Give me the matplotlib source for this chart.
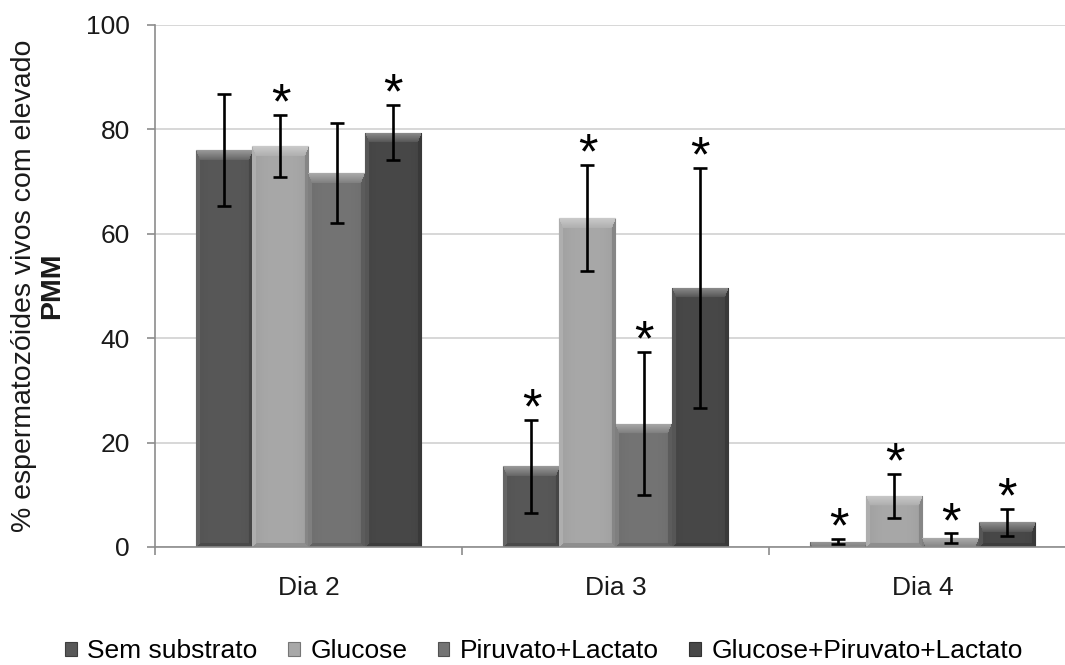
"""
Bar chart: % espermatozoides vivos com elevado PMM por dia e substrato.
Recreated in matplotlib with an Excel-like bevel on each bar.
"""

import numpy as np
import matplotlib
matplotlib.use("Agg")
import matplotlib.pyplot as plt
from matplotlib.patches import Patch
from matplotlib.colors import to_rgb


OUTPUT_FIGURE = "out.png"

DAYS = ["Dia 2", "Dia 3", "Dia 4"]
SERIES = ["Sem substrato", "Glucose", "Piruvato+Lactato", "Glucose+Piruvato+Lactato"]

# values per series, one entry per day
SEM_SUBSTRATO = [76.0, 15.5, 1.0]
GLUCOSE = [76.8, 63.0, 9.8]
PIRUVATO_LACTATO = [71.6, 23.6, 1.7]
GLUCOSE_PIRUVATO_LACTATO = [79.4, 49.7, 4.7]

SEM_SUBSTRATO_ERR = [10.7, 8.9, 0.5]
GLUCOSE_ERR = [6.0, 10.2, 4.2]
PIRUVATO_LACTATO_ERR = [9.6, 13.7, 0.9]
GLUCOSE_PIRUVATO_LACTATO_ERR = [5.3, 23.0, 2.6]

# significance marks (1 = asterisk above bar)
SEM_SUBSTRATO_SIG = [0, 1, 1]
GLUCOSE_SIG = [1, 1, 1]
PIRUVATO_LACTATO_SIG = [0, 1, 1]
GLUCOSE_PIRUVATO_LACTATO_SIG = [1, 1, 1]

COLORS = ["#585858", "#a8a8a8", "#747474", "#484848"]

FONT = "Liberation Sans"
FS = 19


def shade(color, amount):
    c = np.array(to_rgb(color))
    if amount >= 0:
        return c + (1 - c) * amount
    return c * (1 + amount)


def bevel_image(color, wpx, hpx, top=10, side=4, bottom=4):
    ncol = max(int(round(wpx)), 2)
    nrow = max(int(round(hpx)), 2)
    yy, xx = np.mgrid[0:nrow, 0:ncol].astype(float)
    d_top = yy + 0.5
    d_bot = nrow - yy - 0.5
    d_left = xx + 0.5
    d_right = ncol - xx - 0.5

    base = np.array(to_rgb(color))
    amt = np.zeros((nrow, ncol))
    # gentle horizontal darkening toward edges
    t = np.abs(xx / (ncol - 1) - 0.5) * 2
    amt -= 0.06 * t ** 3

    top_band = (d_top < top) & (d_top <= d_left * top / side) & (d_top <= d_right * top / side)
    amt[top_band] = 0.32 * (1 - d_top[top_band] / top) + 0.08
    left_band = (~top_band) & (d_left < side) & (d_left <= d_bot)
    amt[left_band] = 0.08
    right_band = (~top_band) & (d_right < side) & (d_right <= d_bot)
    amt[right_band] = -0.2
    bot_band = (~top_band) & (~left_band) & (~right_band) & (d_bot < bottom)
    amt[bot_band] = -0.15

    img = np.empty((nrow, ncol, 3))
    pos = amt >= 0
    for k in range(3):
        ch = np.where(pos, base[k] + (1 - base[k]) * amt, base[k] * (1 + amt))
        img[:, :, k] = ch
    return np.clip(img, 0, 1)


def main():
    plt.rcParams["font.family"] = [FONT, "DejaVu Sans"]

    values = [SEM_SUBSTRATO, GLUCOSE, PIRUVATO_LACTATO, GLUCOSE_PIRUVATO_LACTATO]
    errors = [SEM_SUBSTRATO_ERR, GLUCOSE_ERR, PIRUVATO_LACTATO_ERR, GLUCOSE_PIRUVATO_LACTATO_ERR]
    sigs = [SEM_SUBSTRATO_SIG, GLUCOSE_SIG, PIRUVATO_LACTATO_SIG, GLUCOSE_PIRUVATO_LACTATO_SIG]

    W, H = 1065, 665
    fig = plt.figure(figsize=(W / 100, H / 100), dpi=100)
    ax = fig.add_axes([155 / W, (H - 547) / H, 921 / W, 522 / H])

    ax.set_xlim(-0.5, len(DAYS) - 0.5)
    ax.set_ylim(0, 100)

    px_per_x = 921 / len(DAYS)
    px_per_y = 522 / 100

    x = np.arange(len(DAYS))
    width = 0.1825
    n = len(SERIES)

    for i in range(n):
        offs = x + (i - (n - 1) / 2) * width
        bars = ax.bar(offs, values[i], width, color=COLORS[i],
                      edgecolor=shade(COLORS[i], -0.3), linewidth=0.8, zorder=2)
        for b in bars:
            bx, by = b.get_x(), b.get_y()
            bw, bh = b.get_width(), b.get_height()
            img = bevel_image(COLORS[i], bw * px_per_x, bh * px_per_y)
            im = ax.imshow(img, extent=[bx, bx + bw, by, by + bh], aspect="auto",
                           origin="upper", interpolation="bilinear", zorder=2.1)
            im.set_clip_path(b)
        ax.errorbar(offs, values[i], yerr=errors[i], fmt="none", ecolor="black",
                    elinewidth=1.9, capsize=5, capthick=1.9, zorder=4)
        for j in range(len(DAYS)):
            if sigs[i][j]:
                ax.annotate("*", (offs[j], values[i][j] + errors[i][j]),
                            xytext=(0, -2.5), textcoords="offset points",
                            ha="center", va="baseline", fontsize=36, zorder=5)

    # axes styling
    ax.set_yticks(np.arange(0, 101, 20))
    ax.yaxis.grid(True, color="#d4d4d4", linewidth=1.3, zorder=0)
    ax.set_axisbelow(True)
    for s in ["top", "right"]:
        ax.spines[s].set_visible(False)
    for s in ["left", "bottom"]:
        ax.spines[s].set_color("#8c8c8c")
        ax.spines[s].set_linewidth(1.2)
    ax.tick_params(axis="y", length=6, width=1.2, color="#8c8c8c",
                   labelsize=FS, pad=12, labelcolor="#1a1a1a")

    ax.set_xticks(np.arange(len(DAYS) + 1) - 0.5)
    ax.set_xticklabels([])
    ax.tick_params(axis="x", which="major", length=6, width=1.2, color="#8c8c8c")
    ax.set_xticks(x, minor=True)
    ax.set_xticklabels(DAYS, minor=True)
    ax.tick_params(axis="x", which="minor", length=0, labelsize=FS, pad=21,
                   labelcolor="#1a1a1a")

    # y label in two lines, second one bold
    yc = 1 - 286 / H
    fig.text(24 / W, yc, "% espermatozóides vivos com elevado", rotation=90,
             ha="center", va="center", fontsize=20.5, color="#1a1a1a")
    fig.text(52 / W, yc, "PMM", rotation=90, ha="center", va="center",
             fontsize=20.5, fontweight="bold", color="#1a1a1a")

    handles = [Patch(facecolor=COLORS[i], edgecolor=shade(COLORS[i], -0.3), linewidth=0.8)
               for i in range(n)]
    fig.legend(handles, SERIES, loc="center", bbox_to_anchor=(544 / W, 1 - 651 / H),
               ncol=4, frameon=False, fontsize=19, handlelength=0.45, handleheight=0.45,
               handletextpad=0.4, columnspacing=1.15, borderaxespad=0, borderpad=0.1)

    fig.savefig(OUTPUT_FIGURE, dpi=100)
    plt.close(fig)


if __name__ == "__main__":
    main()
